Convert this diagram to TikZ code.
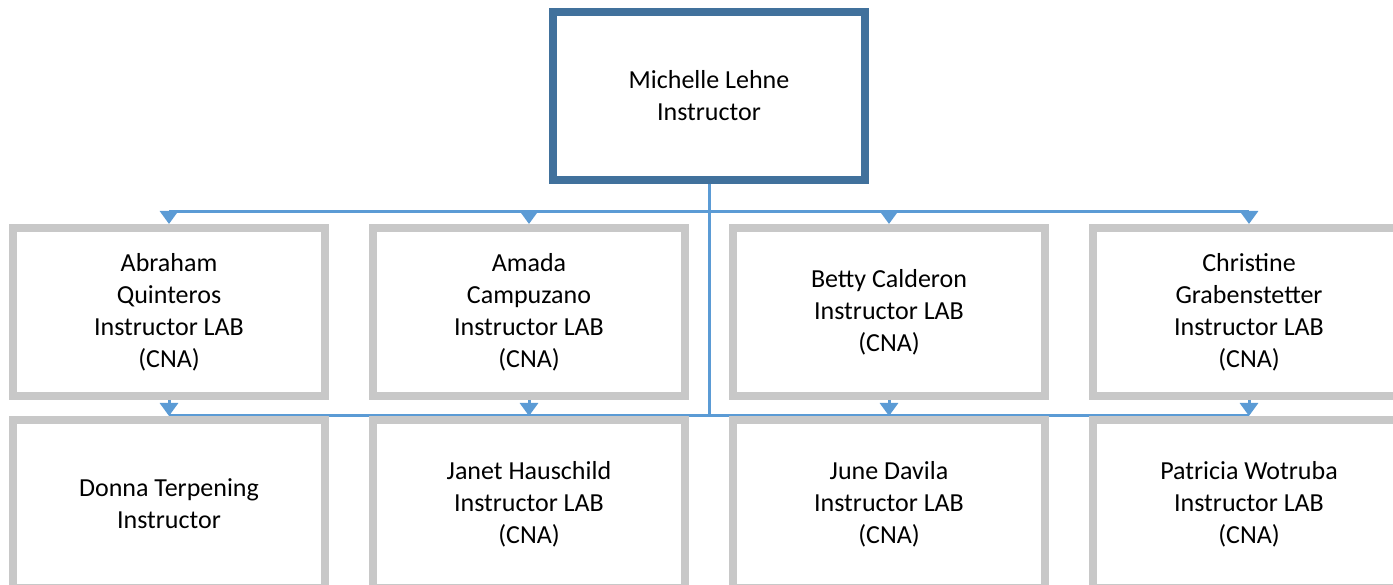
\documentclass[tikz,border=0pt]{standalone}
\usepackage{fontspec}
\setmainfont{Carlito}
\usepackage{xcolor}
\usepackage{tikz}
\usetikzlibrary{arrows.meta,positioning,calc,backgrounds,shadows}

\definecolor{headblue}{HTML}{41719C}
\definecolor{linkblue}{HTML}{5B9BD5}
\definecolor{boxgray}{HTML}{C8C8C8}

\begin{document}
\begin{tikzpicture}[
    x=1pt, y=1pt,
    node distance=40pt,
    font=\fontsize{26}{32}\selectfont,
    box/.style={rectangle, draw, fill=white, line width=8pt, minimum width=312pt, minimum height=168pt, align=center,
        drop shadow={shadow xshift=2pt, shadow yshift=-3pt, opacity=.12, fill=linkblue}},
    head/.style={box, draw=headblue},
    member/.style={box, draw=boxgray},
    link/.style={draw=linkblue, line width=3pt},
    tip/.style={link, -{Triangle[width=18pt,length=13pt]}}
]
    \useasboundingbox (0,0) rectangle (1393,-585);
    \clip (0,0) rectangle (1393,-585);

    \node[head] (lehne) at (709,-96) {Michelle Lehne\\Instructor};

    % first row
    \node[member] (a1) at (169,-312) {Abraham\\Quinteros\\Instructor LAB\\(CNA)};
    \node[member, right=of a1] (a2) {Amada\\Campuzano\\Instructor LAB\\(CNA)};
    \node[member, right=of a2] (a3) {Betty Calderon\\Instructor LAB\\(CNA)};
    \node[member, right=of a3] (a4) {Christine\\Grabenstetter\\Instructor LAB\\(CNA)};

    % second row
    \node[member, below=16pt of a1] (b1) {Donna Terpening\\Instructor};
    \node[member, below=16pt of a2] (b2) {Janet Hauschild\\Instructor LAB\\(CNA)};
    \node[member, below=16pt of a3] (b3) {June Davila\\Instructor LAB\\(CNA)};
    \node[member, below=16pt of a4] (b4) {Patricia Wotruba\\Instructor LAB\\(CNA)};

    \coordinate (upbus) at ([yshift=12pt]a1.north);
    \coordinate (lowbus) at ([yshift=1pt]b1.north);

    \begin{scope}[on background layer]
        \draw[link] (lehne.south) -- (lehne.south |- lowbus);
        \draw[link] (a1.north |- upbus) -- (a4.north |- upbus);
        \draw[link] (a1.north |- lowbus) -- (a4.north |- lowbus);
    \end{scope}

    \foreach \i in {1,...,4} {
        \draw[tip] (a\i.north |- upbus) -- (a\i.north);
        \draw[tip] (a\i.south) -- (b\i.north);
    }
\end{tikzpicture}
\end{document}
